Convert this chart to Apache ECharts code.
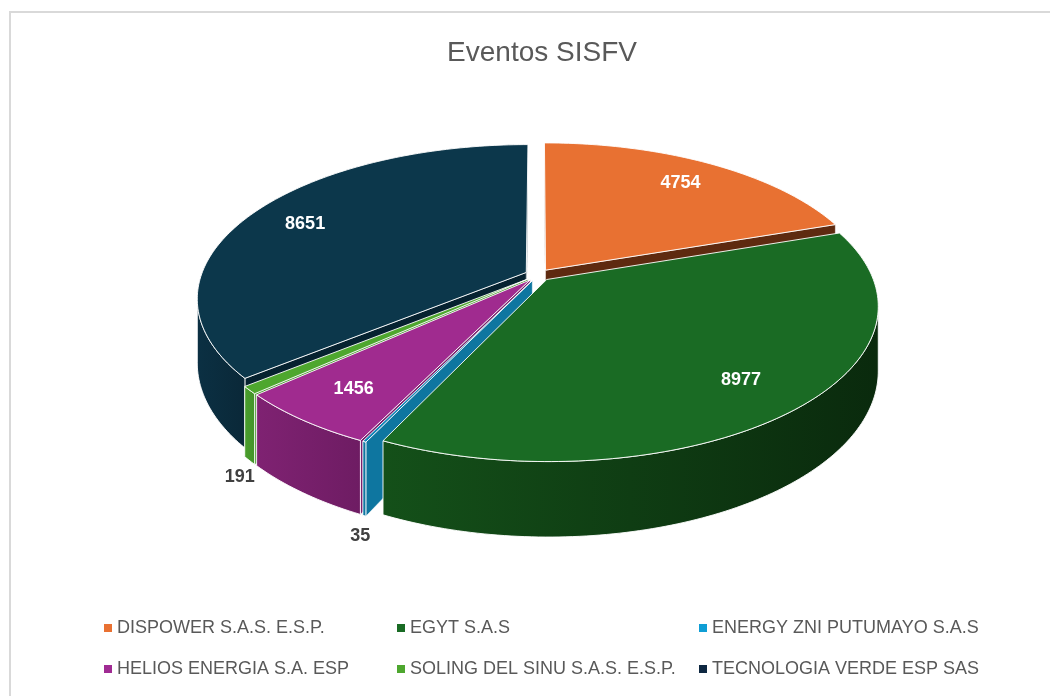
<!DOCTYPE html>
<html>
<head>
<meta charset="utf-8">
<script src="https://cdn.jsdelivr.net/npm/echarts@6/dist/echarts.min.js"></script>
<style>
  html, body { margin: 0; padding: 0; background: #fff; }
  #chart { width: 1050px; height: 696px; }
</style>
</head>
<body>
<div id="chart"></div>
<script>
// data
const names = [
  "DISPOWER S.A.S. E.S.P.",
  "EGYT S.A.S",
  "ENERGY ZNI PUTUMAYO S.A.S",
  "HELIOS ENERGIA S.A. ESP",
  "SOLING DEL SINU S.A.S. E.S.P.",
  "TECNOLOGIA VERDE ESP SAS"
];
const values = [4754, 8977, 35, 1456, 191, 8651];

// colours (style only)
const legendColors = ["#e97132", "#196b24", "#0f9ed5", "#a02b93", "#4ea72e", "#0e2841"];
const topColors = ["#e87132", "#1a6b24", "#0e86b8", "#a02b8f", "#4ea72e", "#0c374b"];
const sideColors = [
  ["#6a2d10", "#5a260d"],
  ["#145019", "#0a2a0d"],
  ["#0e7fab", "#0c6f98"],
  ["#7f2272", "#6e1c63"],
  ["#4a9e2b", "#43932a"],
  ["#0b3043", "#0a2838"]
];
const cutColors = ["#5e2a10", "#0d3a12", "#0e76a0", "#7a1f6c", "#46992a", "#062230"];

// fake 3D projection of the pie
const CX = 538, CY = 275, RX = 325, RY = 150, K = 0.167, DEPTH = 62.5, EXPLODE = 0.04;
const total = values.reduce((a, b) => a + b, 0);
const starts = [];
let acc = 0;
values.forEach((v) => { starts.push(acc / total * 360); acc += v; });

const rad = (d) => d * Math.PI / 180;
function proj(X, Z, h) {
  const p = 1 / (1 - K * Z);
  return [CX + RX * X * p, CY + RY * Z * p + DEPTH * h * p];
}
function area(pts) {
  let s = 0;
  for (let i = 0; i < pts.length; i++) {
    const a = pts[i], b = pts[(i + 1) % pts.length];
    s += a[0] * b[1] - b[0] * a[1];
  }
  return s;
}
// silhouette of the side wall
const VIS_MIN = Math.acos(-K) * 180 / Math.PI;
const VIS_MAX = 360 - VIS_MIN;

function buildSlice(i, value) {
  const a0 = starts[i];
  const a1 = a0 + value / total * 360;
  const am = (a0 + a1) / 2;
  const ox = EXPLODE * Math.sin(rad(am));
  const oz = -EXPLODE * Math.cos(rad(am));
  const rim = (deg, r, h) => proj(ox + r * Math.sin(rad(deg)), oz - r * Math.cos(rad(deg)), h);
  const arcDegs = (lo, hi) => {
    const out = [];
    const n = Math.max(1, Math.ceil(hi - lo));
    for (let k = 0; k <= n; k++) out.push(lo + (hi - lo) * k / n);
    return out;
  };
  const children = [];
  const stroke = { stroke: "rgba(255,255,255,0.9)", lineWidth: 1, lineJoin: "round" };

  // radial cut faces
  [[a0, -1], [a1, 1]].forEach(([deg, sign]) => {
    const pts = [proj(ox, oz, 0), rim(deg, 1, 0), rim(deg, 1, 1), proj(ox, oz, 1)];
    if (area(pts) * sign > 0) {
      const zMean = (oz * 2 + 2 * (oz - Math.cos(rad(deg)))) / 4;
      children.push({
        type: "polygon", z2: 100 + Math.round(zMean * 100),
        shape: { points: pts },
        style: { fill: cutColors[i], stroke: "rgba(255,255,255,0.7)", lineWidth: 0.8 }
      });
    }
  });

  // outer wall, front part only
  const lo = Math.max(a0, VIS_MIN), hi = Math.min(a1, VIS_MAX);
  if (hi > lo) {
    const degs = arcDegs(lo, hi);
    const topPts = degs.map((d) => rim(d, 1, 0));
    const botPts = degs.map((d) => rim(d, 1, 1)).reverse();
    const zMean = degs.reduce((s, d) => s + oz - Math.cos(rad(d)), 0) / degs.length;
    children.push({
      type: "polygon", z2: 100 + Math.round(zMean * 100) + 5,
      shape: { points: topPts.concat(botPts) },
      style: Object.assign({
        fill: {
          type: "linear", x: 0, y: 0, x2: 1, y2: 0,
          colorStops: [
            { offset: 0, color: sideColors[i][0] },
            { offset: 1, color: sideColors[i][1] }
          ]
        }
      }, stroke)
    });
  }

  // top face
  const topFace = [proj(ox, oz, 0)].concat(arcDegs(a0, a1).map((d) => rim(d, 1, 0)));
  children.push({
    type: "polygon", z2: 1000,
    shape: { points: topFace },
    style: Object.assign({ fill: topColors[i] }, stroke)
  });

  // data label
  const share = value / total;
  let lp, fill;
  if (share < 0.03) {
    lp = rim(am, 1.05, 1);
    lp = [lp[0] + 6, lp[1] + 10];
    fill = "#404040";
  } else {
    lp = rim(am, 0.8, 0);
    fill = "#ffffff";
  }
  children.push({
    type: "text", z2: 2000,
    style: {
      text: String(value), x: lp[0], y: lp[1],
      fill: fill, font: "bold 18px 'Liberation Sans', Arial, sans-serif",
      align: "center", verticalAlign: "middle"
    }
  });
  return children;
}

const series = names.map((name, i) => ({
  type: "custom",
  name: name,
  coordinateSystem: "none",
  silent: true,
  itemStyle: { color: legendColors[i] },
  data: [values[i]],
  renderItem: (params, api) => ({ type: "group", children: buildSlice(i, api.value(0)) })
}));

const legendBase = {
  orient: "vertical",
  top: 613,
  icon: "rect",
  itemWidth: 8,
  itemHeight: 8,
  itemGap: 21,
  selectedMode: false,
  textStyle: {
    fontFamily: "Liberation Sans, Arial, sans-serif",
    fontSize: 18,
    lineHeight: 20,
    color: "#595959"
  }
};

const chart = echarts.init(document.getElementById("chart"));
chart.setOption({
  animation: false,
  title: {
    text: "Eventos SISFV",
    left: 537,
    textAlign: "center",
    top: 34,
    textStyle: {
      fontFamily: "Liberation Sans, Arial, sans-serif",
      fontSize: 28,
      fontWeight: "normal",
      color: "#595959"
    }
  },
  legend: [
    Object.assign({}, legendBase, { left: 99, data: [names[0], names[3]] }),
    Object.assign({}, legendBase, { left: 392, data: [names[1], names[4]] }),
    Object.assign({}, legendBase, { left: 694, data: [names[2], names[5]] })
  ],
  graphic: [{
    type: "rect",
    shape: { x: 10, y: 12, width: 1200, height: 900 },
    style: { fill: "none", stroke: "#d9d9d9", lineWidth: 2 },
    silent: true
  }],
  series: series
});
</script>
</body>
</html>
